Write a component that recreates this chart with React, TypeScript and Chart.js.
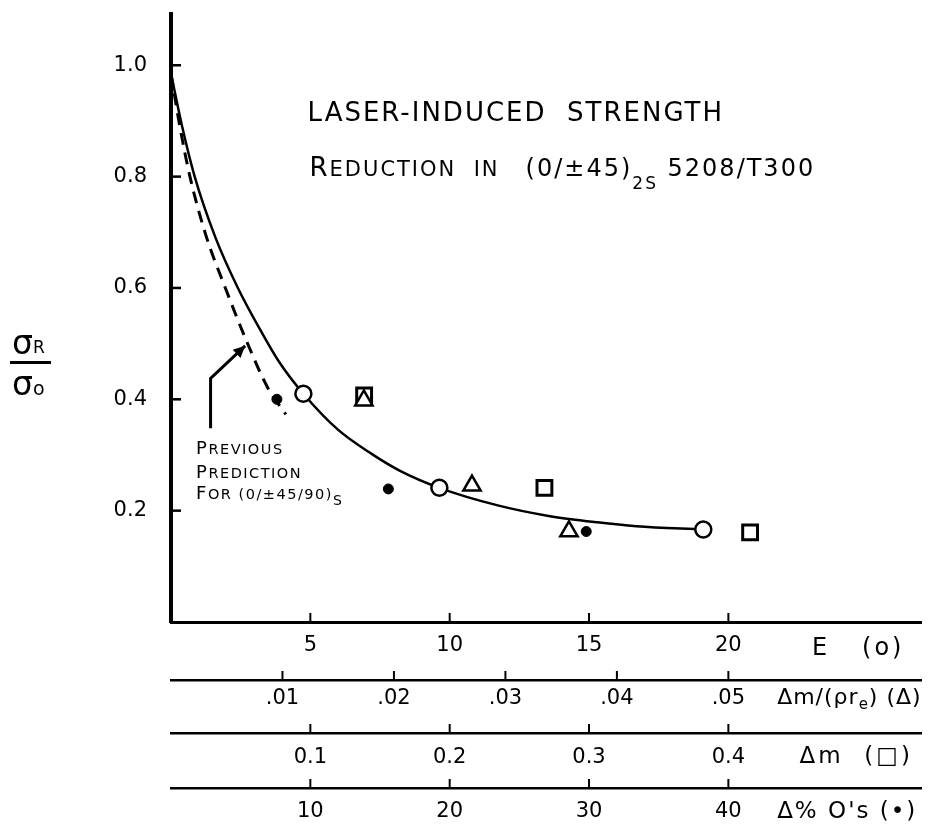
import { useEffect, useRef } from "react";
import { Chart, registerables } from "chart.js";

Chart.register(...registerables);

// ---------------- data ----------------
const SOLID_E = [0, 0.4, 0.85, 1.6, 2.4, 3.2, 3.87, 4.75, 6.0, 7.2, 8.2, 9.63, 11.76, 13.5, 15.3, 16.7, 19.1];
const SOLID_RATIO = [0.985, 0.89, 0.8, 0.69, 0.6, 0.525, 0.468, 0.41, 0.345, 0.302, 0.272, 0.241, 0.209, 0.191, 0.179, 0.172, 0.166];
const DASHED_E = [0, 0.3, 0.68, 1.25, 1.95, 2.75, 3.48, 4.12];
const DASHED_RATIO = [0.985, 0.895, 0.8, 0.695, 0.6, 0.5, 0.42, 0.373];

const CIRCLE_E = [4.75, 9.63, 19.1];
const CIRCLE_RATIO = [0.41, 0.241, 0.166];
const TRIANGLE_DMR = [0.0173, 0.027, 0.0357];
const TRIANGLE_RATIO = [0.398, 0.245, 0.163];
const SQUARE_DM = [0.1386, 0.268, 0.4156];
const SQUARE_RATIO = [0.407, 0.241, 0.161];
const DOT_O = [7.6, 15.6, 29.8];
const DOT_RATIO = [0.4, 0.239, 0.1625];

const Y_TICKS = [0.2, 0.4, 0.6, 0.8, 1.0];
const Y_TICK_LABELS = ["0.2", "0.4", "0.6", "0.8", "1.0"];
const E_TICKS = [5, 10, 15, 20];
const E_TICK_LABELS = ["5", "10", "15", "20"];
const DMR_TICKS = [0.01, 0.02, 0.03, 0.04, 0.05];
const DMR_TICK_LABELS = [".01", ".02", ".03", ".04", ".05"];
const DM_TICKS = [0.1, 0.2, 0.3, 0.4];
const DM_TICK_LABELS = ["0.1", "0.2", "0.3", "0.4"];
const O_TICKS = [10, 20, 30, 40];
const O_TICK_LABELS = ["10", "20", "30", "40"];

// axis ranges
const E_MAX = 26.93;
const Y_MAX = 1.093;

// texts
const TITLE_1 = "LASER-INDUCED  STRENGTH";
const TITLE_2: [string, number, number][] = [
  ["R", 26, 0],
  ["EDUCTION  IN   ", 21, 0],
  ["(0/±45)", 24, 0],
  ["2S", 17, 13],
  [" 5208/T300", 24, 0],
];
const NOTE_LINES: [string, number, number][][] = [
  [["P", 18, 0], ["REVIOUS", 14.5, 0]],
  [["P", 18, 0], ["REDICTION", 14.5, 0]],
  [["F", 18, 0], ["OR (0/±45/90)", 14.5, 0], ["S", 14, 6]],
];
const ROW_LABELS: [string, number, number][][] = [
  [["E   (o)", 24, 0]],
  [["Δm/(ρr", 22, 0], ["e", 15, 5], [") (Δ)", 22, 0]],
  [["Δm  (□)", 23, 0]],
  [["Δ% O's (•)", 23, 0]],
];
const ROW_LABEL_SPACING = [3, 1, 3, 2];

// annotation anchors (in data units of E / ratio)
const TITLE_1_AT = [4.9, 0.9];
const TITLE_2_AT = [4.97, 0.802];
const NOTE_E = 0.9;
const NOTE_RATIO = [0.302, 0.259, 0.221];
const ARROW_E = [1.42, 1.42, 2.66];
const ARROW_RATIO = [0.348, 0.4375, 0.496];
const ROW_LABEL_E = [23.0, 21.75, 22.55, 21.75];
const ROW_LABEL_DY = [33, 24, 30, 30];
const Y_TITLE_RATIO = 0.466;

const FONT = '"DejaVu Sans", sans-serif';

function drawRuns(ctx: CanvasRenderingContext2D, x: number, y: number, parts: [string, number, number][]) {
  let cx = x;
  for (const [t, size, dy] of parts) {
    ctx.font = `${size}px ${FONT}`;
    ctx.fillText(t, cx, y + dy);
    cx += ctx.measureText(t).width;
  }
}

const decorPlugin = {
  id: "decor",
  afterDraw(chart: any) {
    const ctx: CanvasRenderingContext2D = chart.ctx;
    const ys = chart.scales.y;
    const xE = chart.scales.x;
    const xs = [chart.scales.x, chart.scales.xDmr, chart.scales.xDm, chart.scales.xO];
    ctx.save();
    ctx.strokeStyle = "#000";
    ctx.fillStyle = "#000";
    ctx.textBaseline = "alphabetic";
    ctx.textAlign = "left";

    // inward y ticks
    ctx.lineWidth = 2.5;
    for (const v of Y_TICKS) {
      const py = ys.getPixelForValue(v);
      ctx.beginPath();
      ctx.moveTo(ys.right, py);
      ctx.lineTo(ys.right + 10, py);
      ctx.stroke();
    }
    // upward x ticks
    ctx.lineWidth = 2;
    for (const s of xs) {
      for (const t of s.ticks) {
        const px = s.getPixelForValue(t.value);
        ctx.beginPath();
        ctx.moveTo(px, s.top);
        ctx.lineTo(px, s.top - 9);
        ctx.stroke();
      }
    }

    // row labels at the right
    xs.forEach((s: any, i: number) => {
      (ctx as any).letterSpacing = `${ROW_LABEL_SPACING[i]}px`;
      drawRuns(ctx, xE.getPixelForValue(ROW_LABEL_E[i]), s.top + ROW_LABEL_DY[i], ROW_LABELS[i]);
    });

    // title
    (ctx as any).letterSpacing = "2px";
    ctx.font = `26px ${FONT}`;
    ctx.fillText(TITLE_1, xE.getPixelForValue(TITLE_1_AT[0]), ys.getPixelForValue(TITLE_1_AT[1]));
    drawRuns(ctx, xE.getPixelForValue(TITLE_2_AT[0]), ys.getPixelForValue(TITLE_2_AT[1]), TITLE_2);

    // note
    (ctx as any).letterSpacing = "1.5px";
    NOTE_LINES.forEach((line, i) => {
      drawRuns(ctx, xE.getPixelForValue(NOTE_E), ys.getPixelForValue(NOTE_RATIO[i]), line);
    });
    (ctx as any).letterSpacing = "0px";

    // arrow
    const pts = ARROW_E.map((e, i) => [xE.getPixelForValue(e), ys.getPixelForValue(ARROW_RATIO[i])]);
    ctx.lineWidth = 3;
    ctx.beginPath();
    ctx.moveTo(pts[0][0], pts[0][1]);
    for (let i = 1; i < pts.length; i++) ctx.lineTo(pts[i][0], pts[i][1]);
    ctx.stroke();
    const [ax, ay] = pts[pts.length - 1];
    const [bx, by] = pts[pts.length - 2];
    const ang = Math.atan2(ay - by, ax - bx);
    const L = 13, W = 0.45;
    ctx.beginPath();
    ctx.moveTo(ax, ay);
    ctx.lineTo(ax - L * Math.cos(ang - W), ay - L * Math.sin(ang - W));
    ctx.lineTo(ax - L * Math.cos(ang + W), ay - L * Math.sin(ang + W));
    ctx.closePath();
    ctx.fill();

    // y title fraction σR / σo
    const cy = ys.getPixelForValue(Y_TITLE_RATIO);
    const lx = ys.left + 12;
    drawRuns(ctx, lx, cy - 9, [["σ", 33, 0], ["R", 17, -1]]);
    ctx.lineWidth = 3;
    ctx.beginPath();
    ctx.moveTo(lx - 2, cy);
    ctx.lineTo(lx + 39, cy);
    ctx.stroke();
    drawRuns(ctx, lx, cy + 32, [["σ", 33, 0], ["o", 19, 0]]);

    ctx.restore();
  },
};

function xAxis(
  weight: number,
  max: number,
  ticks: number[],
  labels: string[],
  height: number,
  padding: number,
  borderWidth: number
) {
  return {
    type: "linear",
    axis: "x",
    position: "bottom",
    weight,
    min: 0,
    max,
    grid: { display: false, drawTicks: false },
    border: { display: true, color: "#000", width: borderWidth },
    ticks: {
      padding,
      color: "#000",
      font: { family: FONT, size: 21 },
      maxRotation: 0,
      autoSkip: false,
      callback: (_v: any, i: number) => labels[i] ?? "",
    },
    afterBuildTicks: (s: any) => {
      s.ticks = ticks.map((v) => ({ value: v }));
    },
    afterFit: (s: any) => {
      s.height = height;
      s.paddingLeft = 0;
      s.paddingRight = 0;
    },
  };
}

export default function App() {
  const ref = useRef<HTMLCanvasElement>(null);

  useEffect(() => {
    document.body.style.margin = "0";
    const pts = (xs: number[], ys: number[]) => xs.map((x, i) => ({ x, y: ys[i] }));
    const chart = new Chart(ref.current as HTMLCanvasElement, {
      type: "scatter",
      data: {
        datasets: [
          {
            label: "E",
            data: pts(CIRCLE_E, CIRCLE_RATIO),
            xAxisID: "x",
            yAxisID: "y",
            pointStyle: "circle",
            pointRadius: 8,
            pointBackgroundColor: "#fff",
            pointBorderColor: "#000",
            pointBorderWidth: 2.5,
            order: 0,
          },
          {
            label: "Δm/(ρre)",
            data: pts(TRIANGLE_DMR, TRIANGLE_RATIO),
            xAxisID: "xDmr",
            yAxisID: "y",
            pointStyle: "triangle",
            pointRadius: 10,
            pointBackgroundColor: "#fff",
            pointBorderColor: "#000",
            pointBorderWidth: 2.5,
            order: 1,
          },
          {
            label: "Δm",
            data: pts(SQUARE_DM, SQUARE_RATIO),
            xAxisID: "xDm",
            yAxisID: "y",
            pointStyle: "rect",
            pointRadius: 10.5,
            pointBackgroundColor: "rgba(255,255,255,0)",
            pointBorderColor: "#000",
            pointBorderWidth: 3,
            order: 2,
          },
          {
            label: "Δ% O's",
            data: pts(DOT_O, DOT_RATIO),
            xAxisID: "xO",
            yAxisID: "y",
            pointStyle: "circle",
            pointRadius: 5,
            pointBackgroundColor: "#000",
            pointBorderColor: "#000",
            pointBorderWidth: 1,
            order: 3,
          },
          {
            label: "present",
            data: pts(SOLID_E, SOLID_RATIO),
            xAxisID: "x",
            yAxisID: "y",
            showLine: true,
            borderColor: "#000",
            borderWidth: 2.5,
            pointRadius: 0,
            cubicInterpolationMode: "monotone",
            order: 10,
          },
          {
            label: "previous",
            data: pts(DASHED_E, DASHED_RATIO),
            xAxisID: "x",
            yAxisID: "y",
            showLine: true,
            borderColor: "#000",
            borderWidth: 3,
            borderDash: [12, 8],
            pointRadius: 0,
            cubicInterpolationMode: "monotone",
            order: 11,
          },
        ],
      },
      options: {
        responsive: false,
        animation: false,
        events: [],
        layout: { padding: { left: 0, right: 8, top: 10, bottom: 0 } },
        plugins: { legend: { display: false }, tooltip: { enabled: false } },
        scales: {
          x: xAxis(1, E_MAX, E_TICKS, E_TICK_LABELS, 58, 11, 3),
          xDmr: xAxis(2, E_MAX / 400, DMR_TICKS, DMR_TICK_LABELS, 53, 6, 2.5),
          xDm: xAxis(3, E_MAX / 50, DM_TICKS, DM_TICK_LABELS, 55, 12, 2.5),
          xO: xAxis(4, E_MAX * 2, O_TICKS, O_TICK_LABELS, 37, 11, 2.5),
          y: {
            type: "linear",
            position: "left",
            min: 0,
            max: Y_MAX,
            grid: { display: false, drawTicks: false },
            border: { display: true, color: "#000", width: 4 },
            ticks: {
              padding: 24,
              color: "#000",
              font: { family: FONT, size: 21 },
              callback: (_v: any, i: number) => Y_TICK_LABELS[i] ?? "",
            },
            afterBuildTicks: (s: any) => {
              s.ticks = Y_TICKS.map((v) => ({ value: v }));
            },
            afterFit: (s: any) => {
              s.width = 171;
              s.paddingTop = 0;
              s.paddingBottom = 0;
            },
          },
        } as any,
      },
      plugins: [decorPlugin],
    } as any);
    return () => chart.destroy();
  }, []);

  return (
    <div style={{ width: 935, height: 825, background: "#fff" }}>
      <canvas ref={ref} width={935} height={825} style={{ display: "block" }} />
    </div>
  );
}
